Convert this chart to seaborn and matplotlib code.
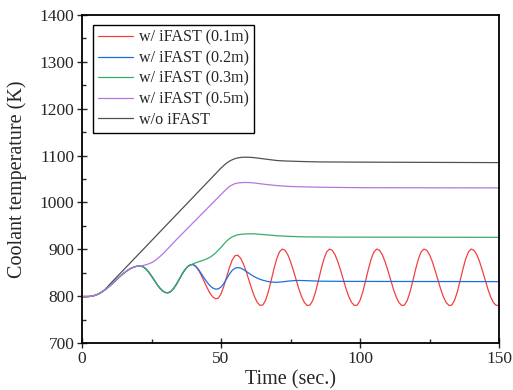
import seaborn as sns
import matplotlib.pyplot as plt
import matplotlib.ticker as ticker
import pandas as pd


# values (time in s, coolant temperature in K)

# shared start of the 0.1m / 0.2m / 0.3m runs, the 0.5m run follows it up to 21 s
t_start = list(range(0, 40))
T_start = [799, 799, 799, 799.5, 800.5, 802.5, 805, 808.5, 812.5, 817,
           822, 827.5, 833, 838.5, 844, 849, 853.5, 857.5, 860.5, 862.8,
           864.2, 864.5, 862.5, 858, 851, 842.7, 833.7, 824.8, 817, 811,
           807.7, 807.2, 810.2, 816.8, 825.9, 836.5, 847.1, 856.4, 863.2, 866.8]

red_t = list(range(40, 151))
red_T = [867.4, 862.9, 854.5, 843.2, 830.3, 817.6, 806.5, 798.5, 794.4, 795.6,
         805.0, 821.1, 840.9, 860.7, 876.8, 886.2, 887.3, 881.3, 869.5, 853.3,
         834.7, 815.9, 799.3, 787.0, 780.4,
         780.9, 790.9, 809.1, 832.6, 857.4, 879.2, 894.4, 900.5, 897.8, 888.6,
         873.8, 855.3, 835.0, 815.3, 798.4, 786.3, 780.1,
         780.9, 790.9, 809.1, 832.6, 857.4, 879.2, 894.4, 900.5, 897.8, 888.6,
         873.8, 855.3, 835.0, 815.3, 798.4, 786.3, 780.1,
         780.9, 790.9, 809.1, 832.6, 857.4, 879.2, 894.4, 900.5, 897.8, 888.6,
         873.8, 855.3, 835.0, 815.3, 798.4, 786.3, 780.1,
         780.9, 790.9, 809.1, 832.6, 857.4, 879.2, 894.4, 900.5, 897.8, 888.6,
         873.8, 855.3, 835.0, 815.3, 798.4, 786.3, 780.1,
         780.9, 790.9, 809.1, 832.6, 857.4, 879.2, 894.4, 900.5, 897.8, 888.6,
         873.8, 855.3, 835.0, 815.3, 798.4, 786.3, 780.1,
         780.9]

blue_t = [40, 41, 42, 43, 44, 45, 46, 47, 48, 49, 50, 51, 52, 53, 54, 55, 56,
          57, 58, 59, 60, 61, 62, 63, 64, 65, 66, 67, 68, 70, 72, 74, 76, 78,
          81, 85, 95, 150]
blue_T = [867.5, 863, 856, 847, 838, 829.5, 822.5, 817.5, 815, 815.5, 819.5,
          827, 837, 847, 855, 859.5, 861, 860, 857, 853, 849, 845, 841.5,
          838.5, 836, 834, 832.5, 831, 830, 829.5, 830.5, 832, 833, 833.5,
          833, 832, 831.5, 831]

green_t = [40, 41, 42, 43, 44, 45, 46, 47, 48, 49, 50, 51, 52, 53, 54, 55, 56,
           58, 60, 62, 64, 67, 70, 75, 80, 90, 150]
green_T = [869, 871.5, 873.5, 875.5, 877.5, 880, 883, 887, 892, 898, 904,
           911, 917.5, 922.5, 926.5, 929, 931, 932.5, 933, 933, 932, 930.5,
           929, 927.5, 926.5, 926, 925.5]

purple_t = [22, 23, 24, 25, 26, 27, 28, 29, 30, 32, 34, 36, 38, 40, 42, 44,
            46, 48, 50, 51, 52, 53, 54, 55, 56, 58, 60, 62, 64, 66, 70, 75,
            85, 100, 150]
purple_T = [865.5, 867, 869, 871.5, 875, 879.5, 884.5, 890, 896, 908.5, 921,
            933, 945, 957, 969, 981, 993, 1005, 1017, 1023, 1029, 1034,
            1037.5, 1040, 1041.5, 1042.5, 1042.5, 1041.5, 1040, 1038.5, 1036,
            1034, 1032.5, 1031.5, 1031]

black_t = [0, 3, 4, 5, 6, 7, 8, 9, 10, 20, 35, 50, 51, 52, 53, 54, 55, 56,
           57, 58, 60, 62, 64, 66, 68, 70, 73, 78, 85, 100, 150]
black_T = [799, 799.5, 800.5, 802.5, 805, 808.5, 813, 819, 825.5, 887.5,
           980.5, 1073.5, 1079, 1084, 1088, 1091, 1093.5, 1095, 1096, 1096.5,
           1096.5, 1095.5, 1094, 1092.5, 1091, 1089.5, 1088.5, 1087.5, 1086.5,
           1086, 1085]

labels = ['w/ iFAST (0.1m)', 'w/ iFAST (0.2m)', 'w/ iFAST (0.3m)',
          'w/ iFAST (0.5m)', 'w/o iFAST']
colors = ['#F14040', '#1A6FDF', '#37AD6B', '#B177DE', '#515151']


series = [
    (labels[0], t_start + red_t, T_start + red_T),
    (labels[1], t_start + blue_t, T_start + blue_T),
    (labels[2], t_start + green_t, T_start + green_T),
    (labels[3], t_start[:22] + purple_t, T_start[:22] + purple_T),
    (labels[4], black_t, black_T),
]
frames = []
for name, t, T in series:
    frames.append(pd.DataFrame({'time': t, 'temp': T, 'case': name}))
df = pd.concat(frames, ignore_index=True)

sns.set_style('ticks')
plt.rcParams['font.family'] = ['Liberation Serif', 'DejaVu Serif']

fig = plt.figure(figsize=(5.13, 3.9), dpi=100)
ax = fig.add_axes([0.16, 0.1205, 0.8127, 0.841])

sns.lineplot(data=df, x='time', y='temp', hue='case', hue_order=labels,
             palette=dict(zip(labels, colors)), estimator=None, sort=False,
             linewidth=0.9, ax=ax)

# the reference shows the black curve underneath the others at the start
ax.lines[4].set_zorder(1.9)

ax.set_xlim(0, 150)
ax.set_ylim(700, 1400)
ax.xaxis.set_major_locator(ticker.MultipleLocator(50))
ax.xaxis.set_minor_locator(ticker.MultipleLocator(25))
ax.yaxis.set_major_locator(ticker.MultipleLocator(100))
ax.yaxis.set_minor_locator(ticker.MultipleLocator(50))
ax.tick_params(which='major', direction='inout', length=7, width=1,
               labelsize=12.5, pad=2, top=False, right=False)
ax.tick_params(which='minor', direction='in', length=3, width=1,
               top=False, right=False)
for side in ['top', 'right', 'bottom', 'left']:
    ax.spines[side].set_visible(True)
    ax.spines[side].set_color('black')
    ax.spines[side].set_linewidth(1.3)

ax.set_xlabel('Time (sec.)', fontsize=14.5, labelpad=2.5)
ax.set_ylabel('Coolant temperature (K)', fontsize=14.5, labelpad=9)

handles, _ = ax.get_legend_handles_labels()
for h in handles:
    h.set_linewidth(0.9)
leg = ax.legend(handles, labels, loc='upper left', bbox_to_anchor=(0.027, 0.97),
                borderaxespad=0, fancybox=False, edgecolor='black',
                framealpha=1, fontsize=11.6, handlelength=2.15,
                handletextpad=0.4, labelspacing=0.28, borderpad=0.3)
leg.get_frame().set_linewidth(1.0)

fig.savefig('out.png', dpi=100)
